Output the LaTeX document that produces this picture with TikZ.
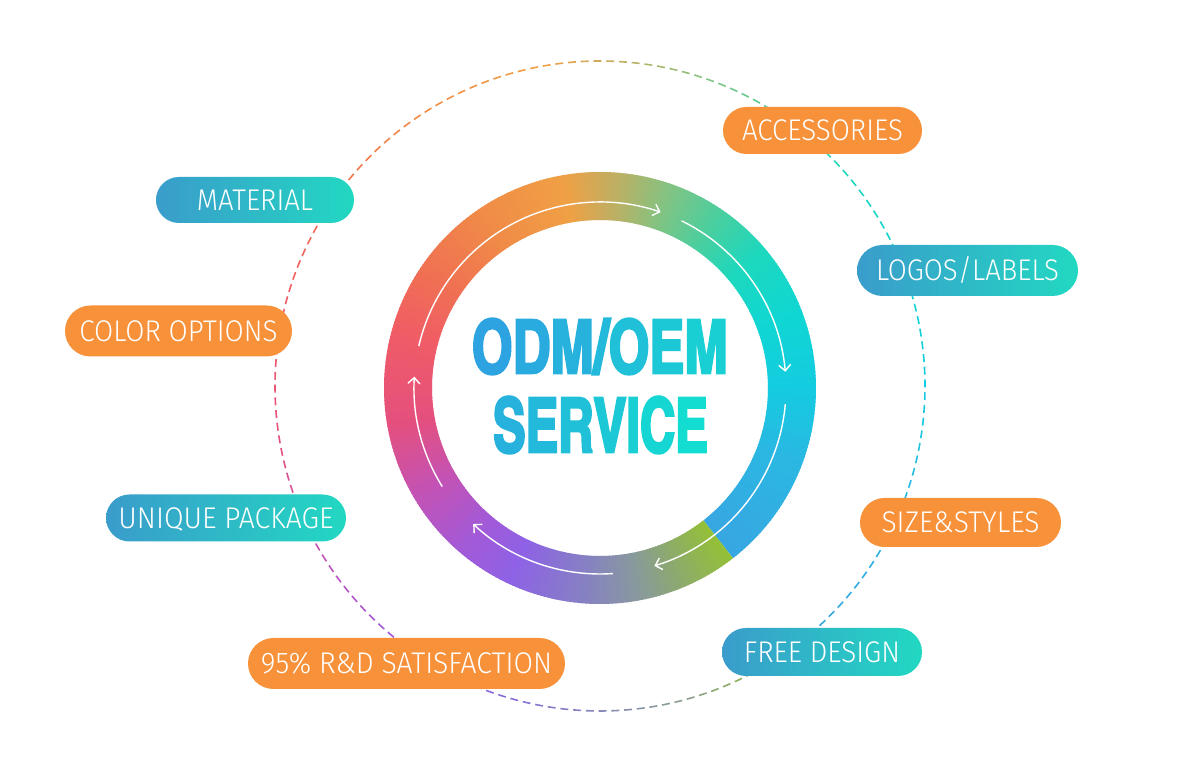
\documentclass[tikz,border=0pt]{standalone}
\usepackage{fontspec}
\usepackage{graphicx}
\usetikzlibrary{arrows.meta,shapes.misc}
\IfFontExistsTF{Fira Sans Book}{\newfontfamily\pillfont{Fira Sans Book}}{\IfFontExistsTF{Fira Sans Light}{\newfontfamily\pillfont{Fira Sans Light}}{\newfontfamily\pillfont{Carlito}}}
\IfFontExistsTF{texgyreheroscn-bold.otf}{\newfontfamily\heavyfont[FakeBold=3.5]{texgyreheroscn-bold.otf}}{\newfontfamily\heavyfont[FakeBold=3.5]{TeX Gyre Heros}}
% ring / dashed-circle colour stops
\definecolor{s0}{HTML}{38A6E2}
\definecolor{s1}{HTML}{2AB8E2}
\definecolor{s2}{HTML}{14CCE0}
\definecolor{s3}{HTML}{10D6D4}
\definecolor{s4}{HTML}{1CD8BE}
\definecolor{s5}{HTML}{48CFA0}
\definecolor{s6}{HTML}{80C484}
\definecolor{s7}{HTML}{BCB064}
\definecolor{s8}{HTML}{F0A044}
\definecolor{s9}{HTML}{F08A48}
\definecolor{s10}{HTML}{F07252}
\definecolor{s11}{HTML}{F05C66}
\definecolor{s12}{HTML}{E4507E}
\definecolor{s13}{HTML}{C452B4}
\definecolor{s14}{HTML}{A25AD8}
\definecolor{s15}{HTML}{8E62E6}
\definecolor{s16}{HTML}{8680C4}
\definecolor{s17}{HTML}{8898A0}
\definecolor{s18}{HTML}{8EAE64}
\definecolor{s19}{HTML}{94C232}
\definecolor{pillorange}{HTML}{F7913A}
\definecolor{tealL}{HTML}{3A9CCB}
\definecolor{tealR}{HTML}{22D8C2}
\definecolor{txtA}{HTML}{2DA4E1}
\definecolor{txtB}{HTML}{12DDD0}
\colorlet{cur}{s0}
\def\stoplist{-52/-20/s0/s1, -20/0/s1/s2, 0/20/s2/s3, 20/40/s3/s4, 40/55/s4/s5, 55/70/s5/s6, 70/85/s6/s7, 85/100/s7/s8, 100/125/s8/s9, 125/145/s9/s10, 145/165/s10/s11, 165/190/s11/s12, 190/210/s12/s13, 210/230/s13/s14, 230/245/s14/s15, 245/265/s15/s16, 265/280/s16/s17, 280/295/s17/s18, 295/309/s18/s19}
\newcommand\findcol[1]{%
  \gdef\fcdone{0}%
  \foreach \aa/\bb/\xa/\xb in \stoplist {%
    \ifnum\fcdone=0
      \ifdim #1pt<\bb pt
        \pgfmathsetmacro\fct{max(0,min(100,(#1-\aa)/(\bb-\aa)*100))}%
        \xglobal\colorlet{cur}{\xb!\fct!\xa}%
        \gdef\fcdone{1}%
      \fi
    \fi
  }%
}
\newcommand\pilltext[2]{\resizebox{#1pt}{20.5pt}{\smash{#2}\rule{0pt}{\fontcharht\font`H}}}
\newcommand\bigtext[3]{\resizebox{#1pt}{#2pt}{\smash{#3}\rule{0pt}{\fontcharht\font`H}}}
\newcommand\gradletter[2]{{\color{txtB!#1!txtA}#2}}
\begin{document}
\begin{tikzpicture}[x=1pt,y=1pt,
  pillO/.style={rounded rectangle, fill=pillorange, inner sep=0pt, text=white, font=\pillfont},
  pillT/.style={rounded rectangle, left color=tealL, right color=tealR, inner sep=0pt, text=white, font=\pillfont},
  cyclearrow/.style={white, line width=1.4pt, -{Straight Barb[length=6pt,width=12pt,line width=1.4pt]}},
  bigword/.style={font=\heavyfont, inner sep=0pt}]
\useasboundingbox (0,0) rectangle (1200,778);
\fill[white] (0,0) rectangle (1200,778);
\coordinate (C) at (600,390);
\coordinate (D) at (600,392);
% dashed outer circle
\foreach \k in {0,...,159}{
  \pgfmathsetmacro\th{-52+2.25*\k}
  \pgfmathsetmacro\thm{\th+0.7}
  \findcol{\thm}
  \draw[cur, line width=1.6pt, shift={(D)}] (\th:325pt) arc[start angle=\th, end angle=\th+1.4, radius=325pt];
}
% gradient ring
\foreach \i in {0,...,359}{
  \pgfmathsetmacro\s{-52+\i}
  \pgfmathsetmacro\e{min(\s+1.4,308)}
  \pgfmathsetmacro\m{\s+0.5}
  \findcol{\m}
  \fill[cur, shift={(C)}] (\s:216pt) arc[start angle=\s, end angle=\e, radius=216pt] -- (\e:168pt) arc[start angle=\e, end angle=\s, radius=168pt] -- cycle;
}
% cycle arrows
\draw[cyclearrow, shift={(C)}] (167:186pt) arc[start angle=167, end angle=71, radius=186pt];
\draw[cyclearrow, shift={(C)}] (64:186pt) arc[start angle=64, end angle=5, radius=186pt];
\draw[cyclearrow, shift={(C)}] (-5:186pt) arc[start angle=-5, end angle=-73, radius=186pt];
\draw[cyclearrow, shift={(C)}] (-86:186pt) arc[start angle=-86, end angle=-133, radius=186pt];
\draw[cyclearrow, shift={(C)}] (212:186pt) arc[start angle=212, end angle=176.5, radius=186pt];
% central title
\node[bigword] (odm) at (600,431.5) {\bigtext{256}{53}{\gradletter{0}{O}\gradletter{12}{D}\gradletter{25}{M}\gradletter{37}{/}\gradletter{50}{O}\gradletter{62}{E}\gradletter{75}{M}}};
\node[bigword] (svc) at (600.5,353) {\bigtext{215}{54}{\gradletter{25}{S}\gradletter{37}{E}\gradletter{50}{R}\gradletter{62}{V}\gradletter{75}{I}\gradletter{87}{C}\gradletter{100}{E}}};
% pills
\node[pillO, minimum width=199pt, minimum height=47pt] (acc) at (822.5,647.5) {\pilltext{161}{ACCESSORIES}};
\node[pillT, minimum width=198pt, minimum height=46pt] (mat) at (255,578) {\pilltext{116}{MATERIAL}};
\node[pillT, minimum width=221pt, minimum height=51pt] (logo) at (967.5,507.5) {\pilltext{183}{LOGOS/LABELS}};
\node[pillO, minimum width=227pt, minimum height=51pt] (col) at (178.5,447) {\pilltext{198}{COLOR OPTIONS}};
\node[pillT, minimum width=240pt, minimum height=47pt] (uni) at (226,260) {\pilltext{215}{UNIQUE PACKAGE}};
\node[pillO, minimum width=317pt, minimum height=51pt] (rd) at (406.5,114.5) {\pilltext{291}{95\% R\&D SATISFACTION}};
\node[pillO, minimum width=201pt, minimum height=49pt] (size) at (960.5,255.5) {\pilltext{158}{SIZE\&STYLES}};
\node[pillT, minimum width=200pt, minimum height=48pt] (free) at (822,126) {\pilltext{156}{FREE DESIGN}};
\end{tikzpicture}
\end{document}
